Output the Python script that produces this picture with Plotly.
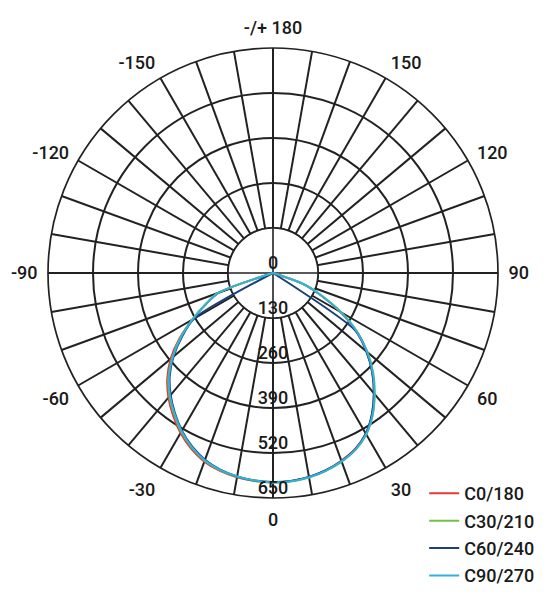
import plotly.graph_objects as go

# gamma angles (deg), 0 = straight down
ANGLES = list(range(-90, 95, 5))

# luminous intensity per C-plane (cd/klm)
C0_180 = [0, 0, 0, 0, 166, 214, 268, 330, 386, 432, 470, 503, 534, 560, 580, 592, 599, 603,
          605,
          603, 598, 590, 577, 561, 536, 499, 454, 406, 353, 294, 224, 152, 90, 0, 0, 0, 0]
C30_210 = [0, 0, 0, 0, 170, 217, 270, 327, 380, 427, 465, 498, 530, 556, 577, 590, 598, 603,
           605,
           604, 600, 592, 580, 564, 539, 502, 457, 410, 357, 298, 228, 156, 95, 0, 0, 0, 0]
C60_240 = [0, 0, 0, 0, 0, 0, 262, 321, 375, 422, 460, 494, 526, 553, 574, 588, 597, 602,
           604,
           603, 598, 590, 578, 562, 536, 498, 453, 405, 352, 292, 0, 0, 0, 0, 0, 0, 0]
C90_270 = [0, 0, 0, 0, 168, 215, 268, 325, 378, 425, 463, 496, 528, 555, 576, 589, 597, 602,
           605,
           604, 599, 591, 579, 563, 538, 501, 456, 408, 355, 296, 226, 155, 93, 0, 0, 0, 0]

SERIES = ["C0/180", "C30/210", "C60/240", "C90/270"]
COLORS = ["#e53935", "#72c04a", "#1c3f78", "#2fb2dc"]

# axis ticks
ANGLE_TICKS = [0, 30, 60, 90, 120, 150, 180, 210, 240, 270, 300, 330]
ANGLE_LABELS = ["0", "30", "60", "90", "120", "150", "-/+ 180",
                "-150", "-120", "-90", "-60", "-30"]
RADIAL_TICKS = [0, 130, 260, 390, 520, 650]
RADIAL_LABELS = ["0", "130", "260", "390", "520", "650"]

GRID = "#222222"
FONT = "Roboto"

spokes = list(range(0, 360, 10))
spoke_text = [ANGLE_LABELS[ANGLE_TICKS.index(a)] if a in ANGLE_TICKS else "" for a in spokes]

fig = go.Figure()

# white disc hides the spokes inside the first ring
circle = list(range(0, 361, 2))
fig.add_trace(go.Scatterpolar(
    r=[RADIAL_TICKS[1]] * len(circle), theta=circle, mode="lines",
    fill="toself", fillcolor="white", line=dict(color=GRID, width=1.6),
    showlegend=False, hoverinfo="skip"))

# the two full diameters through the centre
for a in (0, 90):
    fig.add_trace(go.Scatterpolar(
        r=[RADIAL_TICKS[-1], 0, RADIAL_TICKS[-1]], theta=[a, a, a + 180], mode="lines",
        line=dict(color=GRID, width=1.6), showlegend=False, hoverinfo="skip"))

for i, (name, vals) in enumerate(zip(SERIES, [C0_180, C30_210, C60_240, C90_270])):
    fig.add_trace(go.Scatterpolar(
        r=vals, theta=ANGLES, mode="lines", name=name, legendgroup=name,
        line=dict(color=COLORS[i], width=2, shape="spline", smoothing=0.8)))

# radial value labels down the 0 direction
fig.add_trace(go.Scatterpolar(
    r=RADIAL_TICKS, theta=[0] * len(RADIAL_TICKS), mode="text", text=RADIAL_LABELS,
    textposition="top center",
    textfont=dict(family=FONT, size=18, color="#1a1a1a", weight=500),
    showlegend=False, hoverinfo="skip"))

fig.update_layout(
    width=554, height=600,
    margin=dict(l=40, r=64, t=40, b=110, autoexpand=False),
    paper_bgcolor="white",
    font=dict(family=FONT, color="#1a1a1a"),
    polar=dict(
        bgcolor="white",
        domain=dict(x=[0, 1], y=[0, 1]),
        angularaxis=dict(
            rotation=270, direction="counterclockwise",
            tickmode="array", tickvals=spokes, ticktext=spoke_text,
            ticks="outside", ticklen=6, tickcolor="rgba(0,0,0,0)",
            showline=True, linecolor=GRID, linewidth=1.7,
            showgrid=True, gridcolor=GRID, gridwidth=1.6,
            tickfont=dict(family=FONT, size=18, color="#1a1a1a", weight=500)),
        radialaxis=dict(
            range=[0, RADIAL_TICKS[-1]], tickmode="array", tickvals=RADIAL_TICKS[1:],
            showticklabels=False, ticks="", showline=False,
            showgrid=True, gridcolor=GRID, gridwidth=1.6)),
    legend=dict(
        x=0.836, y=0.051, xanchor="left", yanchor="top",
        font=dict(family=FONT, size=18, color="#1a1a1a", weight=500),
        tracegroupgap=1, bgcolor="rgba(0,0,0,0)"),
    showlegend=True,
)

fig.write_html("out.html")
